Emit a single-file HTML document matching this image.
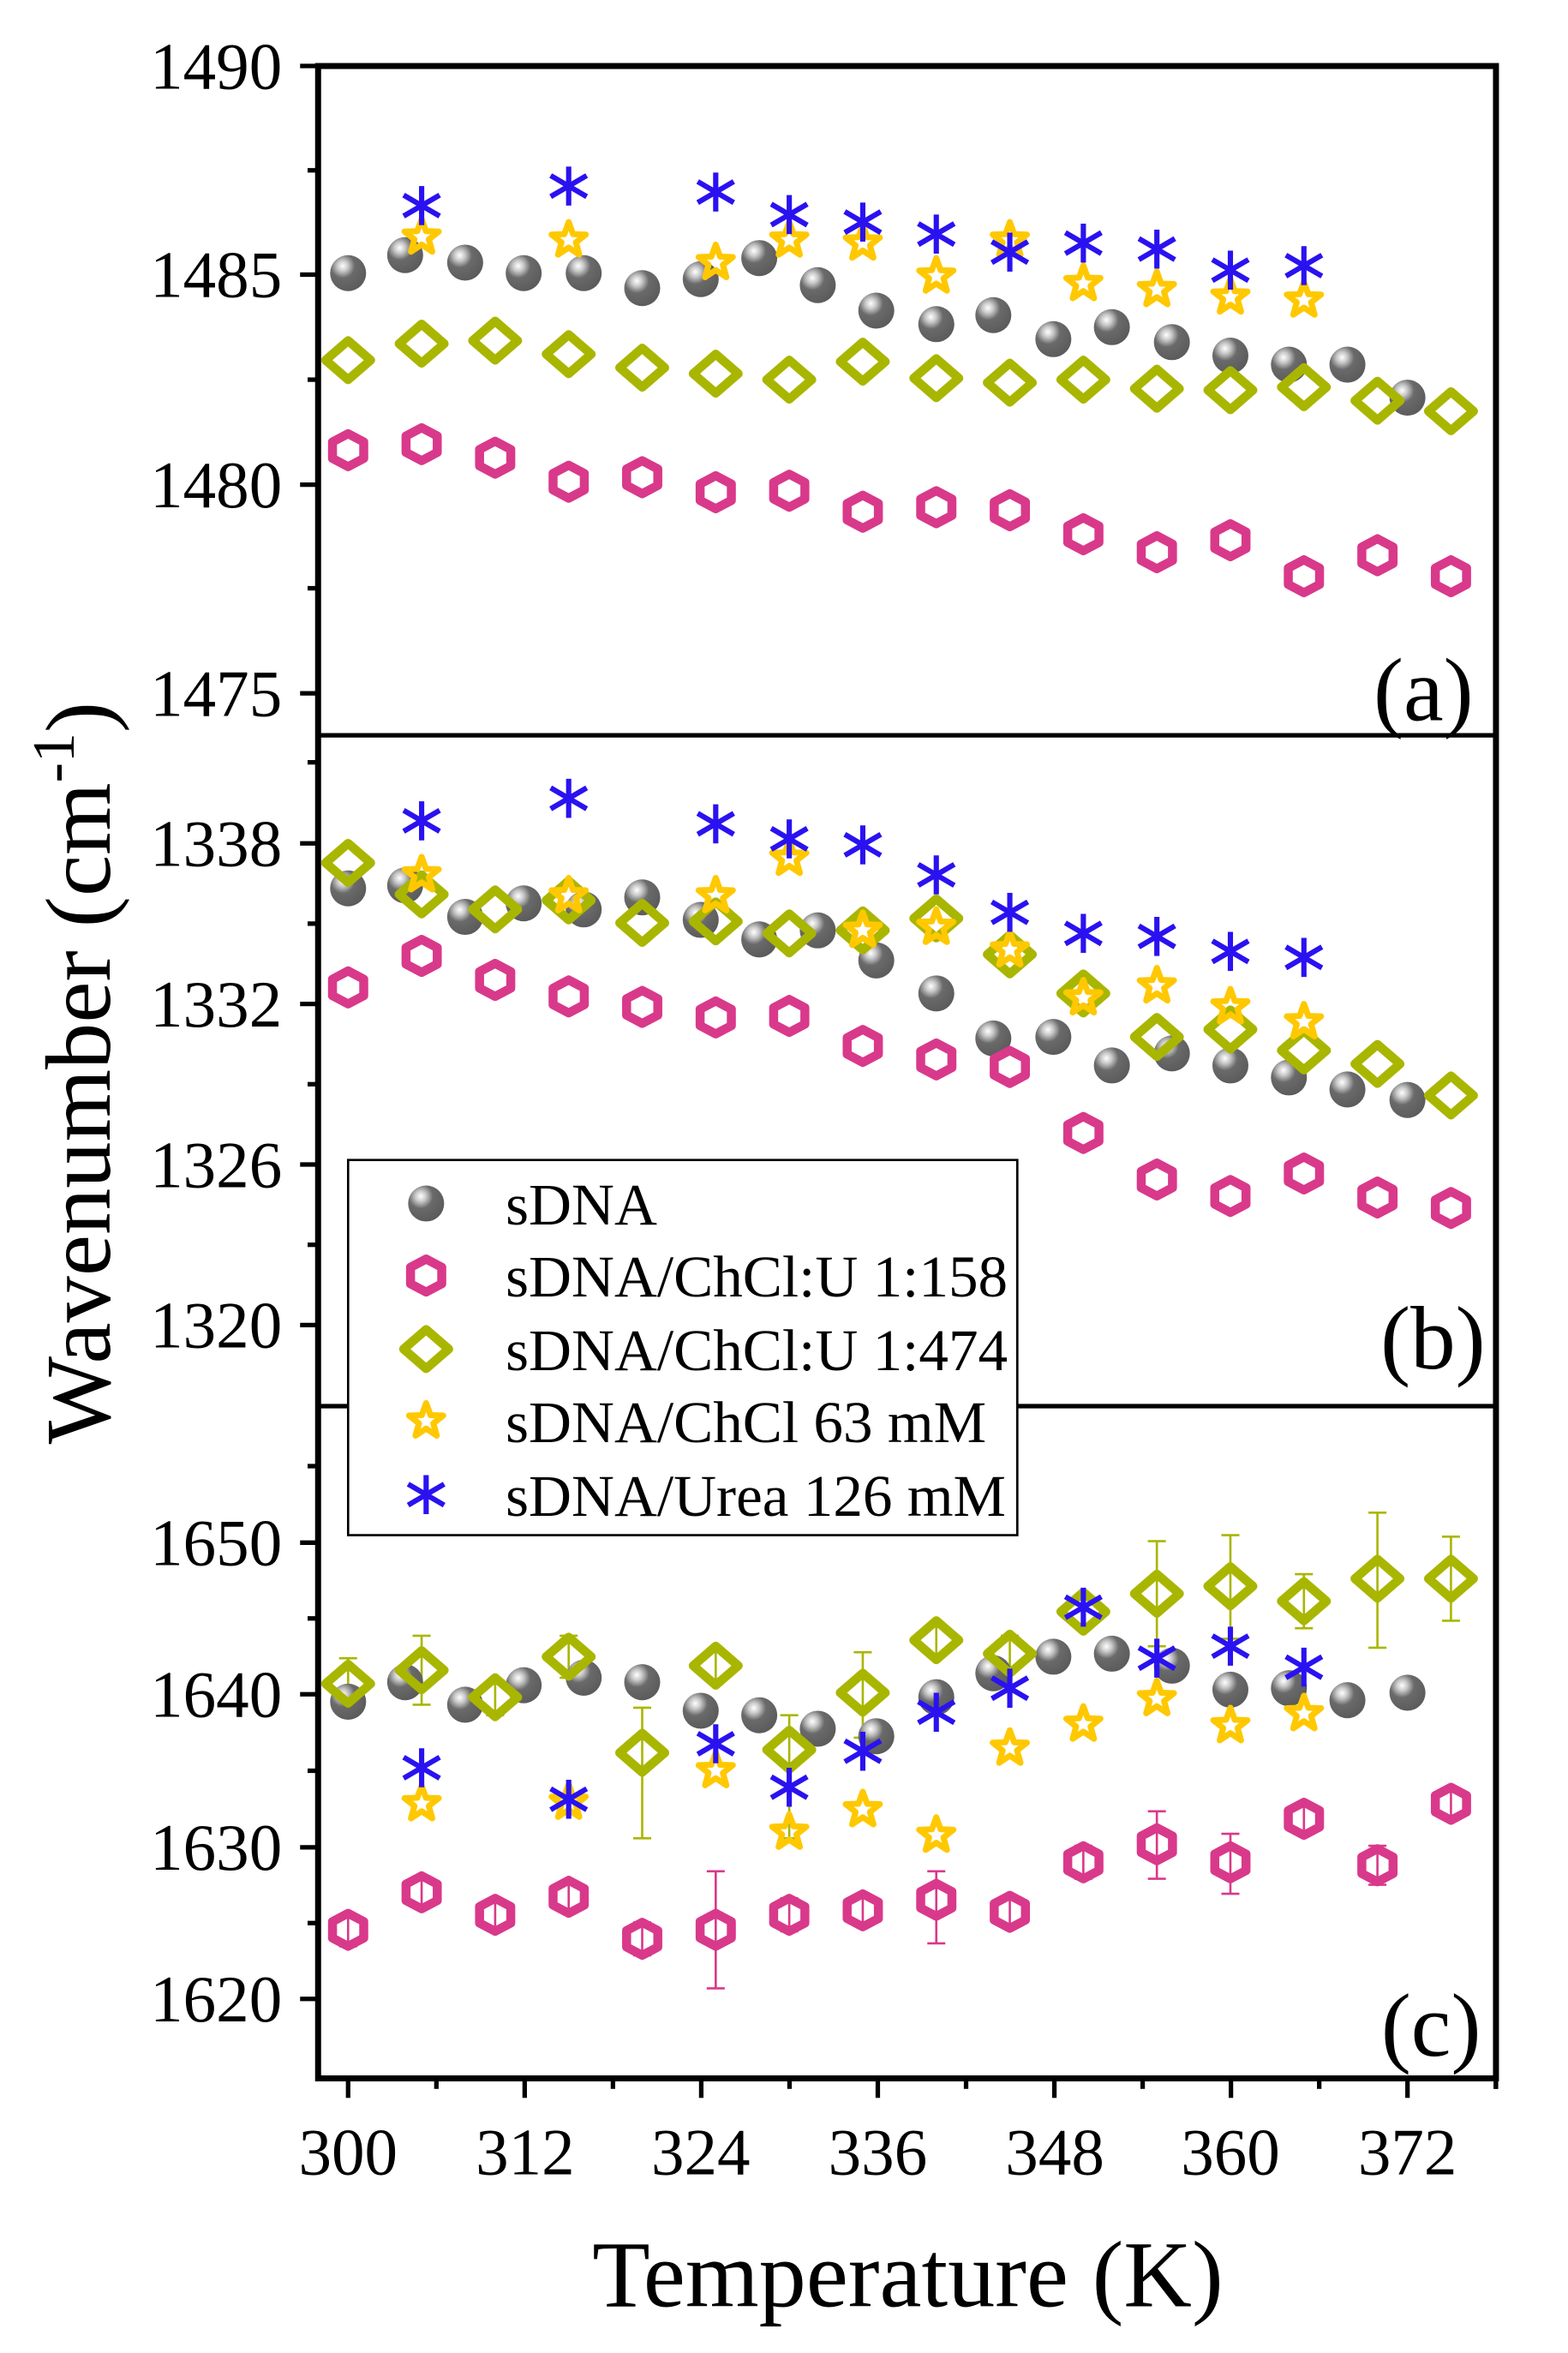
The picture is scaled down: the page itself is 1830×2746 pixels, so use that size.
<!DOCTYPE html>
<html><head><meta charset="utf-8"><style>
html,body{margin:0;padding:0;background:#fff;}
svg{display:block;}
text{font-family:"Liberation Serif",serif;fill:#000;}
</style></head><body>
<svg id="s" width="1830" height="2746" viewBox="0 0 1045 1568" preserveAspectRatio="none" xmlns="http://www.w3.org/2000/svg">
<defs>
<radialGradient id="g" cx="0.35" cy="0.3" r="0.75">
<stop offset="0" stop-color="#ffffff"/><stop offset="0.2" stop-color="#c8c8c8"/><stop offset="0.45" stop-color="#6a6a6a"/><stop offset="1" stop-color="#5a5a5a"/>
</radialGradient>
</defs>
<g id="frame" stroke="#000" fill="none"></g>
<g id="data"></g>
<g font-size="44" text-anchor="end">
<text x="188" y="59">1490</text><text x="188" y="198">1485</text><text x="188" y="338">1480</text><text x="188" y="477">1475</text>
<text x="188" y="577">1338</text><text x="188" y="684">1332</text><text x="188" y="791">1326</text><text x="188" y="898">1320</text>
<text x="188" y="1043">1650</text><text x="188" y="1144">1640</text><text x="188" y="1246">1630</text><text x="188" y="1347">1620</text>
</g>
<g font-size="44" text-anchor="middle">
<text x="232" y="1449">300</text><text x="350" y="1449">312</text><text x="467" y="1449">324</text><text x="585" y="1449">336</text><text x="703" y="1449">348</text><text x="820" y="1449">360</text><text x="938" y="1449">372</text>
</g>
<g font-size="60" text-anchor="end">
<text x="982" y="480">(a)</text><text x="990" y="912">(b)</text><text x="987" y="1370">(c)</text>
</g>
<text x="605" y="1537" font-size="63" text-anchor="middle">Temperature (K)</text>
<text transform="translate(73,715) rotate(-90)" font-size="62" text-anchor="middle">Wavenumber (cm<tspan font-size="40" dy="-24">-1</tspan><tspan dy="24">)</tspan></text>
<rect x="232" y="773" width="446" height="250" fill="#fff" stroke="#000" stroke-width="1.5"/>
<g id="leg"></g>
<g font-size="39.5">
<text x="337" y="816">sDNA</text>
<text x="337" y="864">sDNA/ChCl:U 1:158</text>
<text x="337" y="913">sDNA/ChCl:U 1:474</text>
<text x="337" y="961">sDNA/ChCl 63 mM</text>
<text x="337" y="1010">sDNA/Urea 126 mM</text>
</g>
</svg>
<script>
const NS="http://www.w3.org/2000/svg";
function el(p,t,a){const e=document.createElementNS(NS,t);for(const k in a)e.setAttribute(k,a[k]);p.appendChild(e);return e;}
const F=document.getElementById('frame'),D=document.getElementById('data');
el(F,'rect',{x:212,y:44,width:785,height:1341,'stroke-width':4});
el(F,'line',{x1:212,y1:490,x2:997,y2:490,'stroke-width':3});
el(F,'line',{x1:212,y1:937,x2:997,y2:937,'stroke-width':3});
function lt(y,len){el(F,'line',{x1:212-len,y1:y,x2:212,y2:y,'stroke-width':3});}
[44,183,323,462].forEach(y=>lt(y,12));[113.5,253,392].forEach(y=>lt(y,7));
[562,669,776,883].forEach(y=>lt(y,12));[508,615.5,722.5,829.5].forEach(y=>lt(y,7));
[1028,1129,1231,1332].forEach(y=>lt(y,12));[977,1078.5,1180,1281.5].forEach(y=>lt(y,7));
for(let k=300;k<=378;k+=6){const x=232+(k-300)*9.806;const maj=(k-300)%12==0;el(F,'line',{x1:x,y1:1385,x2:x,y2:1385+(maj?13:7),'stroke-width':3});}
el(F,'line',{x1:997,y1:1385,x2:997,y2:1392,'stroke-width':3});
function sphere(g,x,y){el(g,'circle',{cx:x,cy:y,r:12,fill:'url(#g)'});}
function hexm(g,x,y){let p=[];for(let i=0;i<6;i++){const a=Math.PI/6+i*Math.PI/3;p.push((x+12*Math.cos(a)).toFixed(1)+','+(y+11*Math.sin(a)).toFixed(1));}
el(g,'polygon',{points:p.join(' '),fill:'none',stroke:'#d9398a','stroke-width':6,'stroke-linejoin':'round'});}
function dia(g,x,y){el(g,'polygon',{points:`${x-15},${y} ${x},${y-13} ${x+15},${y} ${x},${y+13}`,fill:'none',stroke:'#a9b600','stroke-width':6,'stroke-linejoin':'round'});}
function star(g,x,y){let p=[];for(let i=0;i<10;i++){const r=i%2?5:12;const a=-Math.PI/2+i*Math.PI/5;p.push((x+r*Math.cos(a)).toFixed(1)+','+(y+r*Math.sin(a)).toFixed(1));}
el(g,'polygon',{points:p.join(' '),fill:'none',stroke:'#ffc800','stroke-width':4,'stroke-linejoin':'round'});}
function ast(g,x,y){const s={stroke:'#2a12f0','stroke-width':3.5};
el(g,'line',Object.assign({x1:x,y1:y-13,x2:x,y2:y+13},s));
el(g,'line',Object.assign({x1:x-12,y1:y-7,x2:x+12,y2:y+7},s));
el(g,'line',Object.assign({x1:x-12,y1:y+7,x2:x+12,y2:y-7},s));}
function eb(x,y1,y2,c){el(D,'line',{x1:x,y1:y1,x2:x,y2:y2,stroke:c,'stroke-width':1.5});
el(D,'line',{x1:x-6,y1:y1,x2:x+6,y2:y1,stroke:c,'stroke-width':1.5});el(D,'line',{x1:x-6,y1:y2,x2:x+6,y2:y2,stroke:c,'stroke-width':1.5});}
const gc='#a9b600',pc='#d9398a';
[[232,1105,1140],[281,1090,1136],[330,1120,1143],[379,1090,1118],[428,1138,1225],[477,1100,1120],[526,1143,1225],[575,1101,1158],[624,1083,1103],[673,1090,1113],[722,1064,1084],[771,1027,1097],[820,1023,1092],[869,1049,1085],[918,1008,1098],[967,1024,1080]].forEach(a=>eb(a[0],a[1],a[2],gc));
[[232,1276,1297],[281,1252,1270],[330,1266,1285],[379,1254,1274],[428,1281,1303],[477,1247,1325],[526,1265,1287],[575,1263,1283],[624,1247,1295],[673,1265,1283],[722,1230,1252],[771,1207,1252],[820,1222,1262],[869,1202,1222],[918,1230,1256],[967,1192,1212]].forEach(a=>eb(a[0],a[1],a[2],pc));
const S=[[232,182],[270,170],[310,175],[349,182],[389,182],[428,192],[467,186],[506,172],[545,190],[584,207],[624,216],[662,210],[702,226],[741,218],[781,228],[820,237],[859,243],[898,243],[938,265],
[232,592],[270,590],[310,611],[349,602],[389,606],[428,598],[467,613],[506,626],[545,620],[584,640],[624,662],[662,692],[702,691],[741,710],[781,702],[820,710],[859,718],[898,726],[938,733],
[232,1134],[270,1121],[310,1136],[349,1123],[389,1118],[428,1121],[467,1140],[506,1143],[545,1152],[584,1157],[624,1131],[662,1115],[702,1104],[741,1102],[781,1110],[820,1126],[859,1125],[898,1133],[938,1128]];
const P=[[232,300],[281,296],[330,305],[379,321],[428,318],[477,328],[526,327],[575,341],[624,338],[673,340],[722,356],[771,368],[820,360],[869,384],[918,370],[967,384],
[232,658],[281,637],[330,653],[379,664],[428,671],[477,678],[526,677],[575,697],[624,706],[673,711],[722,755],[771,786],[820,797],[869,782],[918,798],[967,805],
[232,1286],[281,1261],[330,1276],[379,1264],[428,1292],[477,1286],[526,1276],[575,1273],[624,1266],[673,1274],[722,1241],[771,1229],[820,1241],[869,1212],[918,1243],[967,1202]];
const Dm=[[232,240],[281,229],[330,227],[379,236],[428,245],[477,249],[526,253],[575,241],[624,252],[673,255],[722,253],[771,259],[820,260],[869,258],[918,267],[967,274],
[232,575],[281,596],[330,606],[379,600],[428,615],[477,614],[526,622],[575,620],[624,612],[673,636],[722,662],[771,691],[820,686],[869,700],[918,709],[967,730],
[232,1122],[281,1113],[330,1131],[379,1104],[428,1168],[477,1110],[526,1166],[575,1128],[624,1093],[673,1102],[722,1074],[771,1062],[820,1057],[869,1067],[918,1052],[967,1052]];
const St=[[281,158],[379,160],[477,175],[526,160],[575,162],[624,184],[673,160],[722,189],[771,193],[820,198],[869,200],
[281,583],[379,597],[477,597],[526,572],[575,620],[624,618],[673,633],[722,665],[771,657],[820,671],[869,681],
[281,1202],[379,1201],[477,1180],[526,1221],[575,1206],[624,1223],[673,1165],[722,1149],[771,1132],[820,1150],[869,1142]];
const U=[[281,137],[379,124],[477,128],[526,143],[575,148],[624,156],[673,168],[722,162],[771,166],[820,180],[869,177],
[281,547],[379,532],[477,549],[526,559],[575,563],[624,583],[673,608],[722,622],[771,624],[820,634],[869,638],
[281,1178],[379,1199],[477,1162],[526,1191],[575,1167],[624,1141],[673,1125],[722,1071],[771,1105],[820,1097],[869,1111]];
S.forEach(p=>sphere(D,p[0],p[1]));P.forEach(p=>hexm(D,p[0],p[1]));Dm.forEach(p=>dia(D,p[0],p[1]));St.forEach(p=>star(D,p[0],p[1]));U.forEach(p=>ast(D,p[0],p[1]));
const L=document.getElementById('leg');
sphere(L,284,802);hexm(L,284,850);dia(L,284,899);star(L,284,947);ast(L,284,996);
</script>
</body></html>
